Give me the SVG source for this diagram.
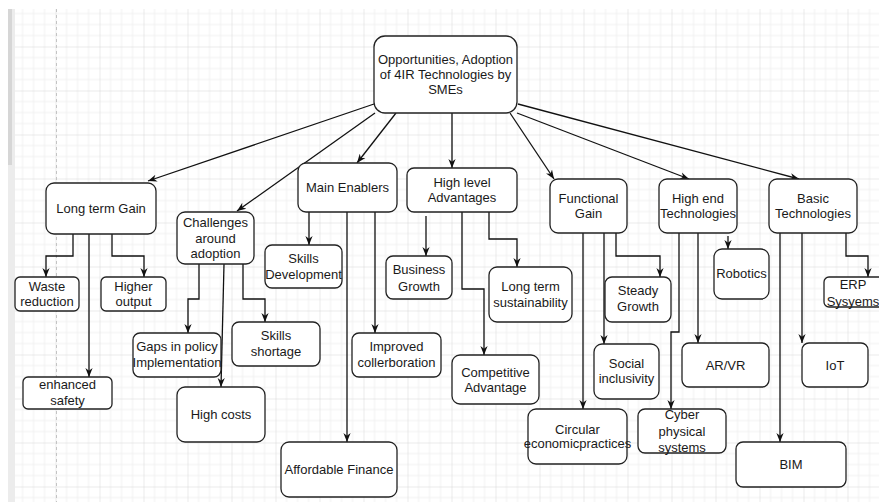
<svg xmlns="http://www.w3.org/2000/svg" width="879" height="502" viewBox="0 0 879 502">
<style>
.n rect{fill:#fff;stroke:#222;stroke-width:1.3}
.n text{font-family:"Liberation Sans",Arial,sans-serif;font-size:13px;fill:#1a1a1a;text-anchor:middle}
#edges path{fill:none;stroke:#111;stroke-width:1.3;marker-end:url(#ah)}
</style>
<defs>
<pattern id="grid" x="11.5" y="2.5" width="44" height="44" patternUnits="userSpaceOnUse">
<path d="M0 0V44M11 0V44M22 0V44M33 0V44M0 0H44M0 11H44M0 22H44M0 33H44" stroke="#f0f0f0" stroke-width="1" fill="none"/>
<path d="M0 0V44M0 0H44" stroke="#dcdcdc" stroke-width="1" fill="none"/>
</pattern>
<marker id="ah" viewBox="0 0 10 10" refX="10" refY="5" markerWidth="9" markerHeight="9" markerUnits="userSpaceOnUse" orient="auto">
<path d="M0,1 L10,5 L0,9 L3,5 z" fill="#111"/>
</marker>
</defs>
<rect x="0" y="0" width="879" height="502" fill="#fff"/>
<rect x="15" y="9" width="864" height="493" fill="url(#grid)"/>
<rect x="8" y="9" width="7" height="493" fill="#ececec"/>
<rect x="8" y="9" width="4" height="156" fill="#d6d6d6"/>
<line x1="56.5" y1="9" x2="56.5" y2="502" stroke="#c4c4c4" stroke-width="1" stroke-dasharray="3 3"/>

<g id="edges">
<path d="M374,104 L148,181"/>
<path d="M375,113 L237,211"/>
<path d="M396,113 L357,163"/>
<path d="M452,113 L452,168"/>
<path d="M510,113 L554,179"/>
<path d="M517,113 L689,179"/>
<path d="M518,104 L799,179"/>
<path d="M73,234 V256 H46 V277"/>
<path d="M112,234 V256 H144 V277"/>
<path d="M89,234 V377"/>
<path d="M199,264 V299 H188 V333"/>
<path d="M243,264 V299 H265 V322"/>
<path d="M224,264 L221,387"/>
<path d="M309,212 V245"/>
<path d="M375,212 V333"/>
<path d="M347,212 V442"/>
<path d="M426,216 V256"/>
<path d="M489,212 V239 H517 V267"/>
<path d="M462,212 V289 H484 V355"/>
<path d="M616,233 V256 H660 V277"/>
<path d="M604,233 V344"/>
<path d="M583,233 V409"/>
<path d="M728,236 V249"/>
<path d="M698,233 V343"/>
<path d="M679,233 V332 H671 V409"/>
<path d="M846,233 V256 H868 V277"/>
<path d="M802,233 V343"/>
<path d="M780,233 V442"/>
</g>

<g id="root" class="n"><rect x="374" y="36" width="143" height="77" rx="11"/>
<text x="445.5" y="63.5">Opportunities, Adoption</text><text x="445.5" y="78.5">of 4IR Technologies by</text><text x="445.5" y="93.5">SMEs</text></g>
<g id="ltg" class="n"><rect x="46" y="183" width="110" height="51" rx="8"/><text x="101" y="212.5">Long term Gain</text></g>
<g id="challenges" class="n"><rect x="177" y="212" width="77" height="52" rx="8"/>
<text x="215.5" y="226.5">Challenges</text><text x="215.5" y="242.5">around</text><text x="215.5" y="257.5">adoption</text></g>
<g id="enablers" class="n"><rect x="298" y="163" width="99" height="49" rx="8"/><text x="347.5" y="191.5">Main Enablers</text></g>
<g id="hla" class="n"><rect x="407" y="168" width="110" height="44" rx="7"/>
<text x="462" y="186.5">High level</text><text x="462" y="201.5">Advantages</text></g>
<g id="functional" class="n"><rect x="550" y="179" width="77" height="54" rx="8"/>
<text x="588.5" y="202.5">Functional</text><text x="588.5" y="217.5">Gain</text></g>
<g id="highend" class="n"><rect x="659" y="179" width="78" height="54" rx="8"/>
<text x="698" y="202.5">High end</text><text x="698" y="217.5">Technologies</text></g>
<g id="basic" class="n"><rect x="769" y="179" width="88" height="54" rx="8"/>
<text x="813" y="202.5">Basic</text><text x="813" y="217.5">Technologies</text></g>

<g id="waste" class="n"><rect x="15" y="277" width="64" height="34" rx="5"/>
<text x="47" y="290.5">Waste</text><text x="47" y="305.5">reduction</text></g>
<g id="higher" class="n"><rect x="101" y="277" width="65" height="34" rx="5"/>
<text x="133.5" y="290.5">Higher</text><text x="133.5" y="305.5">output</text></g>
<g id="safety" class="n"><rect x="23" y="377" width="89" height="32" rx="5"/>
<text x="67.5" y="388.5">enhanced</text><text x="67.5" y="404.5">safety</text></g>
<g id="gaps" class="n"><rect x="133" y="333" width="88" height="44" rx="7"/>
<text x="177" y="350.5">Gaps in policy</text><text x="177" y="366.5">Implementation</text></g>
<g id="shortage" class="n"><rect x="232" y="322" width="88" height="44" rx="7"/>
<text x="276" y="339.5">Skills</text><text x="276" y="355.5">shortage</text></g>
<g id="costs" class="n"><rect x="177" y="387" width="88" height="55" rx="8"/><text x="221" y="418.5">High costs</text></g>
<g id="skilldev" class="n"><rect x="265" y="245" width="77" height="43" rx="7"/>
<text x="303.5" y="262.5">Skills</text><text x="303.5" y="278.5">Development</text></g>
<g id="collab" class="n"><rect x="352" y="333" width="89" height="44" rx="7"/>
<text x="396.5" y="350.5">Improved</text><text x="396.5" y="366.5">collerboration</text></g>
<g id="finance" class="n"><rect x="281" y="442" width="116" height="55" rx="8"/><text x="339" y="473.5">Affordable Finance</text></g>
<g id="bgrowth" class="n"><rect x="386" y="256" width="66" height="43" rx="7"/>
<text x="419" y="273.5">Business</text><text x="419" y="290.5">Growth</text></g>
<g id="lts" class="n"><rect x="489" y="267" width="83" height="55" rx="8"/>
<text x="530.5" y="290.5">Long term</text><text x="530.5" y="306.5">sustainability</text></g>
<g id="competitive" class="n"><rect x="452" y="355" width="87" height="49" rx="8"/>
<text x="495.5" y="376.5">Competitive</text><text x="495.5" y="391.5">Advantage</text></g>
<g id="steady" class="n"><rect x="605" y="277" width="66" height="45" rx="7"/>
<text x="638" y="294.5">Steady</text><text x="638" y="310.5">Growth</text></g>
<g id="social" class="n"><rect x="594" y="344" width="65" height="55" rx="8"/>
<text x="626.5" y="367.5">Social</text><text x="626.5" y="382.5">inclusivity</text></g>
<g id="circular" class="n"><rect x="528" y="409" width="99" height="55" rx="8"/>
<text x="577.5" y="433.5">Circular</text><text x="577.5" y="447.5">economicpractices</text></g>
<g id="robotics" class="n"><rect x="714" y="249" width="55" height="50" rx="8"/><text x="741.5" y="277.5">Robotics</text></g>
<g id="arvr" class="n"><rect x="682" y="343" width="87" height="44" rx="7"/><text x="725.5" y="369.5">AR/VR</text></g>
<g id="cyber" class="n"><rect x="638" y="409" width="88" height="44" rx="7"/>
<text x="682" y="418.5">Cyber</text><text x="682" y="435.5">physical</text><text x="682" y="451.5">systems</text></g>
<g id="erp" class="n"><rect x="824" y="277" width="64" height="30" rx="5"/>
<text x="853" y="288.5">ERP</text><text x="853" y="305.5">Sysyems</text></g>
<g id="iot" class="n"><rect x="802" y="343" width="66" height="44" rx="7"/><text x="835" y="369.5">IoT</text></g>
<g id="bim" class="n"><rect x="736" y="442" width="110" height="45" rx="7"/><text x="791" y="468.5">BIM</text></g>
</svg>
